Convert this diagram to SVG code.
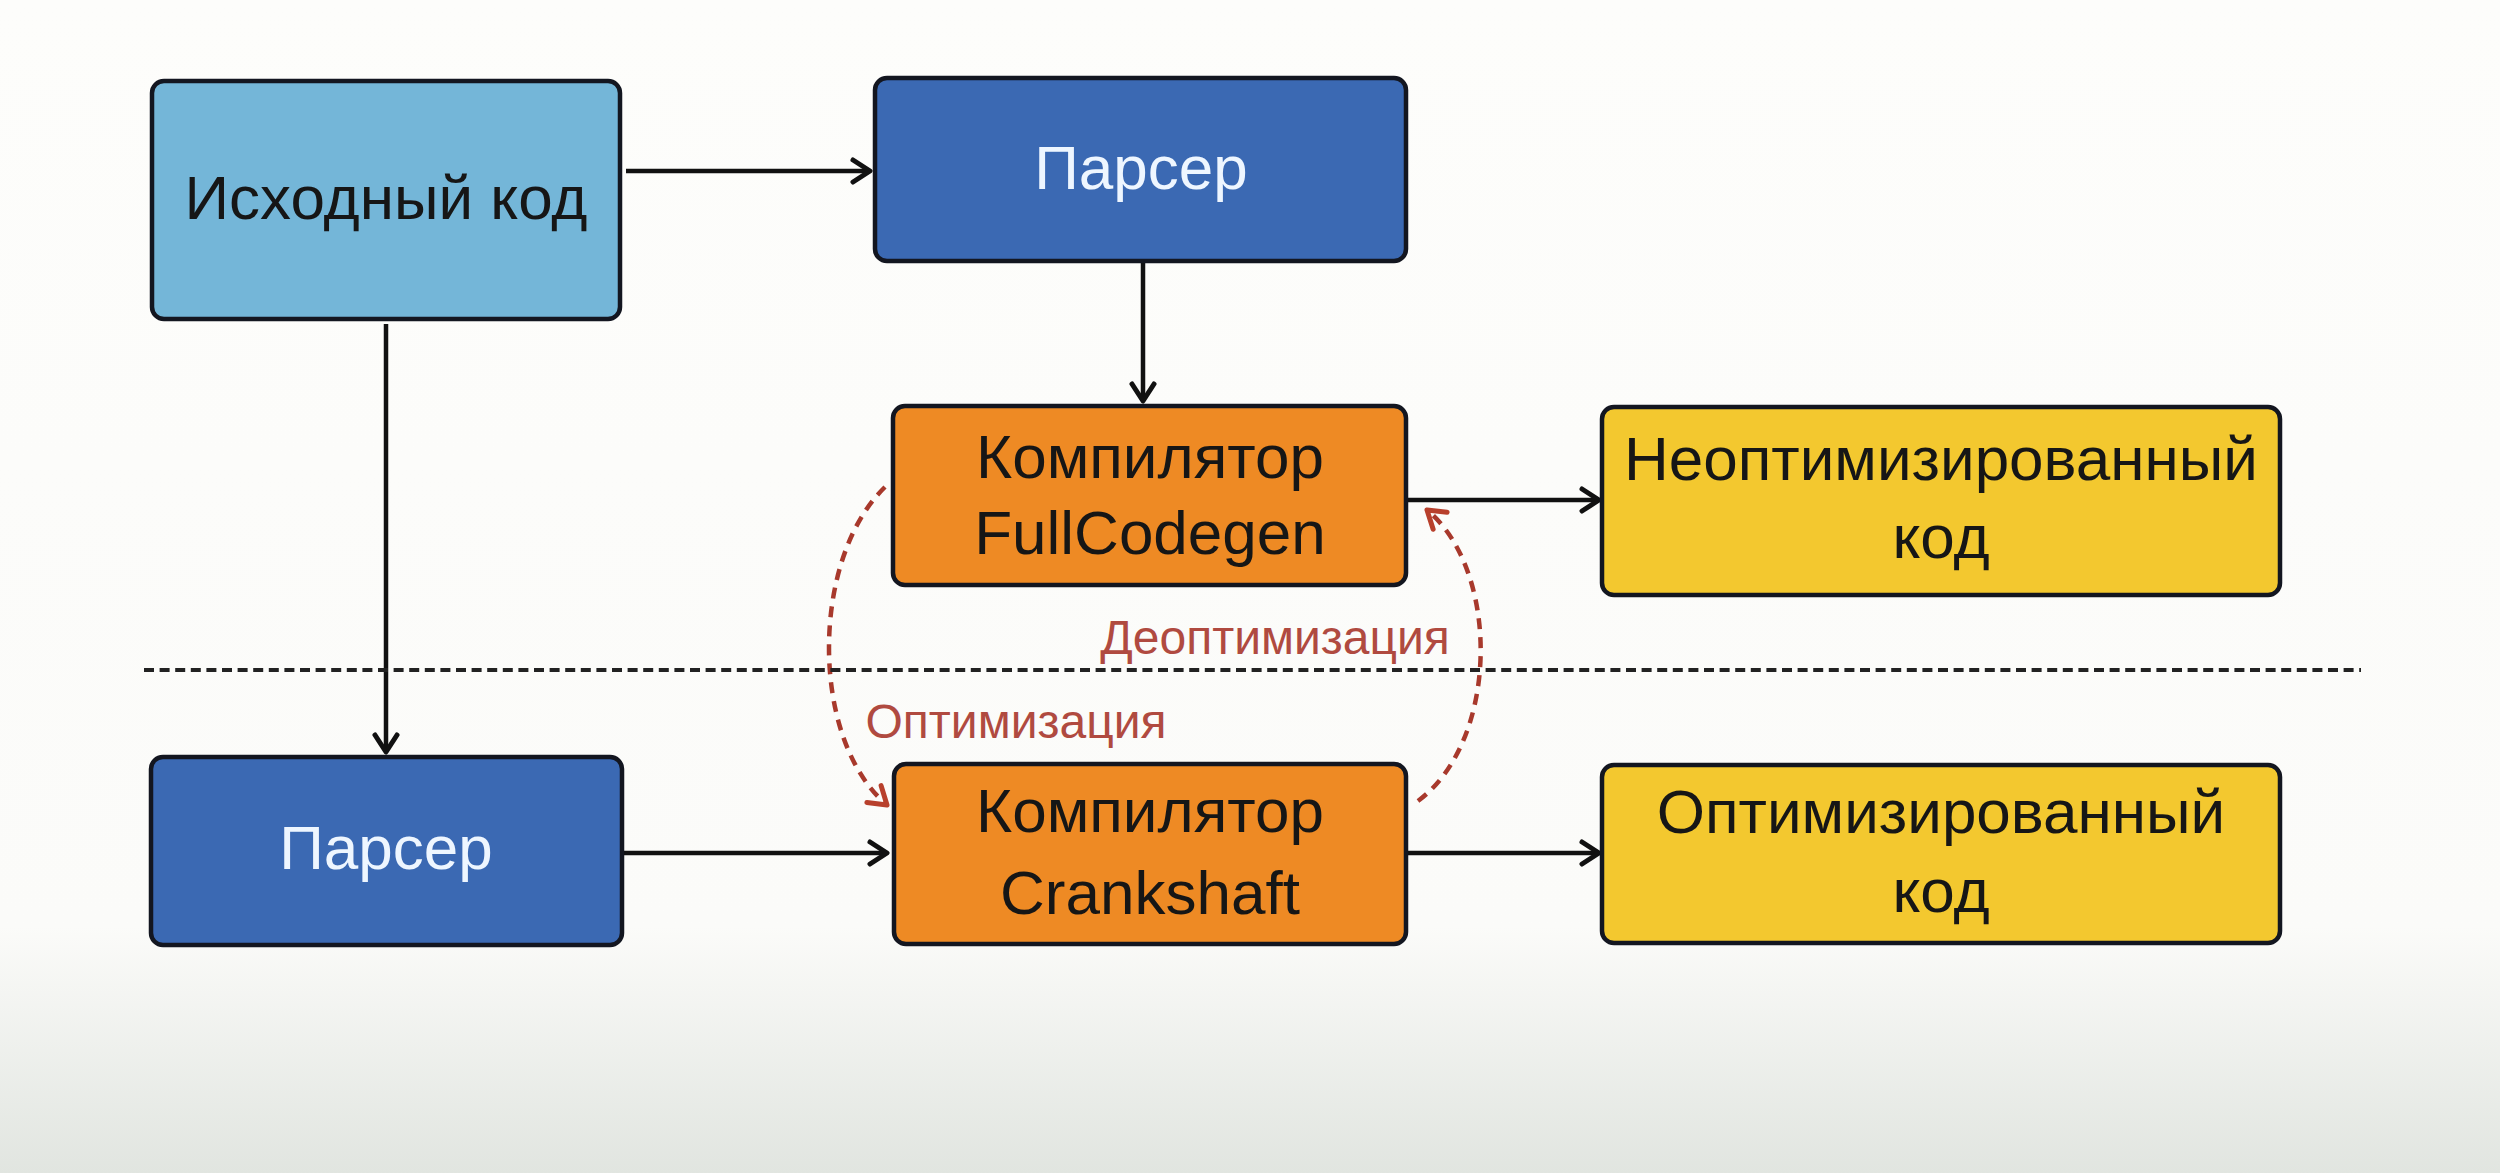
<svg xmlns="http://www.w3.org/2000/svg" width="2500" height="1173" viewBox="0 0 2500 1173">
<defs>
<linearGradient id="bg" x1="0" y1="0" x2="0" y2="1173" gradientUnits="userSpaceOnUse">
<stop offset="0" stop-color="#fdfdfb"/>
<stop offset="0.79" stop-color="#fbfbf9"/>
<stop offset="1" stop-color="#e1e5e0"/>
</linearGradient>
<marker id="ah" markerUnits="userSpaceOnUse" markerWidth="30" markerHeight="30" refX="20" refY="12" orient="auto" overflow="visible">
<path d="M3,1 L20,12 L3,23" fill="none" stroke="#111" stroke-width="5" stroke-linecap="round" stroke-linejoin="round"/>
</marker>
<marker id="ahr" markerUnits="userSpaceOnUse" markerWidth="30" markerHeight="30" refX="20" refY="12" orient="auto" overflow="visible">
<path d="M3,1 L20,12 L3,23" fill="none" stroke="#b8402c" stroke-width="5" stroke-linecap="round" stroke-linejoin="round"/>
</marker>
</defs>
<style>
.box{stroke:#131620;stroke-width:4.5}
.src{fill:#74b6d8}
.par{fill:#3b69b3}
.cmp{fill:#ee8a24}
.out{fill:#f3c82f}
.t{font-family:"Liberation Sans","Noto Sans",sans-serif;font-size:62px;fill:#161616;text-anchor:middle}
.tw{fill:#eef6ff}
.lbl{font-family:"Liberation Sans","Noto Sans",sans-serif;font-size:48px;fill:#b04a40;text-anchor:middle}
.ln{fill:none;stroke:#111;stroke-width:4.5}
.dr{fill:none;stroke:#a8392c;stroke-width:4.5;stroke-dasharray:11 8}
.sep{fill:none;stroke:#222;stroke-width:4;stroke-dasharray:10 5.6}
</style>
<rect x="0" y="0" width="2500" height="1173" fill="url(#bg)"/>

<g id="connectors">
<line class="ln" x1="626" y1="171" x2="870" y2="171" marker-end="url(#ah)"/>
<line class="ln" x1="1143" y1="262" x2="1143" y2="401" marker-end="url(#ah)"/>
<line class="ln" x1="386" y1="324" x2="386" y2="752" marker-end="url(#ah)"/>
<line class="ln" x1="622" y1="853" x2="887" y2="853" marker-end="url(#ah)"/>
<line class="ln" x1="1406" y1="500" x2="1599" y2="500" marker-end="url(#ah)"/>
<line class="ln" x1="1406" y1="853" x2="1599" y2="853" marker-end="url(#ah)"/>
<path class="dr" d="M885,487 C810,560 810,740 887,805" marker-end="url(#ahr)"/>
<path class="dr" d="M1418,801 C1500,740 1500,570 1427,510" marker-end="url(#ahr)"/>
</g>

<line id="separator" class="sep" x1="144" y1="670" x2="2361" y2="670"/>

<g id="node-source">
<rect class="box src" x="152" y="81" width="468" height="238" rx="12"/>
<text class="t" x="386" y="219">Исходный код</text>
</g>
<g id="node-parser-top">
<rect class="box par" x="875" y="78" width="531" height="183" rx="12"/>
<text class="t tw" x="1141" y="189">Парсер</text>
</g>
<g id="node-fullcodegen">
<rect class="box cmp" x="893" y="406" width="513" height="179" rx="12"/>
<text class="t" x="1150" y="478">Компилятор</text>
<text class="t" x="1150" y="554">FullCodegen</text>
</g>
<g id="node-unopt">
<rect class="box out" x="1602" y="407" width="678" height="188" rx="12"/>
<text class="t" x="1941" y="480">Неоптимизированный</text>
<text class="t" x="1941" y="558">код</text>
</g>
<g id="node-parser-bottom">
<rect class="box par" x="151" y="757" width="471" height="188" rx="12"/>
<text class="t tw" x="386" y="869">Парсер</text>
</g>
<g id="node-crankshaft">
<rect class="box cmp" x="894" y="764" width="512" height="180" rx="12"/>
<text class="t" x="1150" y="832">Компилятор</text>
<text class="t" x="1150" y="914">Crankshaft</text>
</g>
<g id="node-opt">
<rect class="box out" x="1602" y="765" width="678" height="178" rx="12"/>
<text class="t" x="1941" y="833">Оптимизированный</text>
<text class="t" x="1941" y="912">код</text>
</g>
<g id="labels">
<text class="lbl" x="1275" y="654">Деоптимизация</text>
<text class="lbl" x="1016" y="738">Оптимизация</text>
</g>
</svg>
